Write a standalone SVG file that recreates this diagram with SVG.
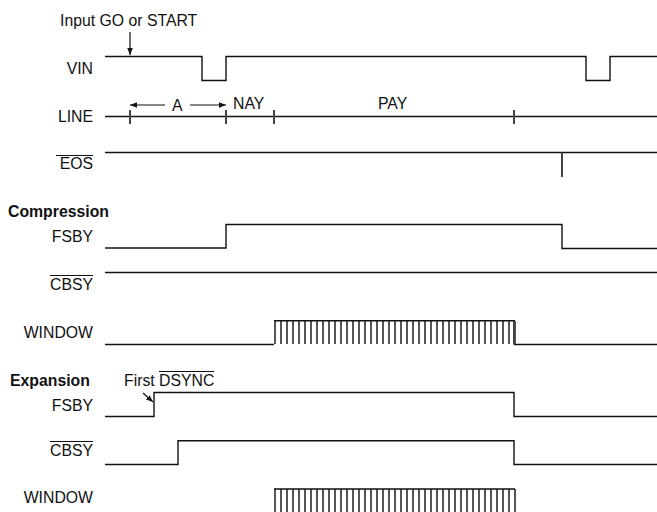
<svg xmlns="http://www.w3.org/2000/svg" width="657" height="512" viewBox="0 0 657 512">
<style>
text{font-family:"Liberation Sans",Arial,sans-serif;font-size:15.8px;fill:#111}
.r{text-anchor:end}
.b{font-weight:bold}
.w{fill:none;stroke:#111;stroke-width:1.4}
.v{fill:none;stroke:#444;stroke-width:2}
.ol{stroke:#111;stroke-width:1.1}
</style>
<defs>
<marker id="ah" viewBox="0 0 10 10" refX="10" refY="5" markerWidth="7" markerHeight="7" orient="auto" markerUnits="userSpaceOnUse">
<path d="M0,1 L10,5 L0,9 z" fill="#111"/>
</marker>
<pattern id="pulse" x="274" y="0" width="6" height="512" patternUnits="userSpaceOnUse">
<rect x="0" y="0" width="2" height="512" fill="#555"/>
</pattern>
</defs>
<g id="labels">
<text x="60" y="25.5">Input GO or START</text>
<text class="r" x="93" y="73.5">VIN</text>
<text class="r" x="93" y="122">LINE</text>
<text class="r" x="93" y="168.5">EOS</text>
<line class="ol" x1="56" y1="155.5" x2="93" y2="155.5"/>
<text class="b" x="8" y="217">Compression</text>
<text class="r" x="93" y="242">FSBY</text>
<text class="r" x="93" y="289.5">CBSY</text>
<line class="ol" x1="50" y1="275.5" x2="93" y2="275.5"/>
<text class="r" x="93" y="337.5">WINDOW</text>
<text class="b" x="10" y="385.5">Expansion</text>
<text x="124" y="385.5">First DSYNC</text>
<line class="ol" x1="159" y1="371.5" x2="214" y2="371.5"/>
<text class="r" x="93" y="410.5">FSBY</text>
<text class="r" x="93" y="455.5">CBSY</text>
<line class="ol" x1="50" y1="441.5" x2="93" y2="441.5"/>
<text class="r" x="93" y="502.5">WINDOW</text>
<text x="172" y="110.5">A</text>
<text x="233" y="108.5">NAY</text>
<text x="378" y="109">PAY</text>
</g>
<g id="connectors">
<line x1="130" y1="32" x2="130" y2="55" stroke="#111" stroke-width="1.2" marker-end="url(#ah)"/>
<line x1="165" y1="105" x2="130" y2="105" stroke="#111" stroke-width="1.2" marker-end="url(#ah)"/>
<line x1="190" y1="105" x2="226" y2="105" stroke="#111" stroke-width="1.2" marker-end="url(#ah)"/>
<line x1="143" y1="393" x2="153" y2="402" stroke="#111" stroke-width="1.2" marker-end="url(#ah)"/>
</g>
<g id="vin">
<polyline class="w" points="105,56.5 202,56.5 202,80.5 226,80.5 226,56.5 586,56.5 586,80.5 610,80.5 610,56.5 657,56.5"/>
</g>
<g id="line">
<line class="w" x1="105" y1="116.5" x2="657" y2="116.5"/>
<path class="v" d="M130,110V124M226,110V124M274,110V124M514,110V124" stroke-width="1.6"/>
</g>
<g id="eos">
<line class="w" x1="105" y1="152.5" x2="657" y2="152.5"/>
<line class="v" x1="562" y1="152.5" x2="562" y2="177"/>
</g>
<g id="comp-fsby">
<polyline class="w" points="105,248 226,248 226,224.5 562,224.5 562,248.5 657,248.5"/>
</g>
<g id="comp-cbsy">
<line class="w" x1="105" y1="272.5" x2="657" y2="272.5"/>
</g>
<g id="comp-window">
<polyline class="w" points="105,344.5 274,344.5"/>
<polyline class="w" points="514,344.5 657,344.5"/>
<rect x="274" y="321" width="242" height="23" fill="url(#pulse)"/>
<line class="w" x1="274" y1="320.8" x2="515" y2="320.8"/>
<line class="v" x1="514" y1="321" x2="514" y2="344.5"/>
</g>
<g id="exp-fsby">
<polyline class="w" points="105,416.5 154,416.5 154,392.5 514,392.5 514,416.5 657,416.5"/>
</g>
<g id="exp-cbsy">
<polyline class="w" points="105,464.5 178,464.5 178,440.8 514,440.8 514,464.5 657,464.5"/>
</g>
<g id="exp-window">
<rect x="274" y="489" width="242" height="23" fill="url(#pulse)"/>
<line class="w" x1="274" y1="489" x2="515" y2="489"/>
</g>
</svg>
